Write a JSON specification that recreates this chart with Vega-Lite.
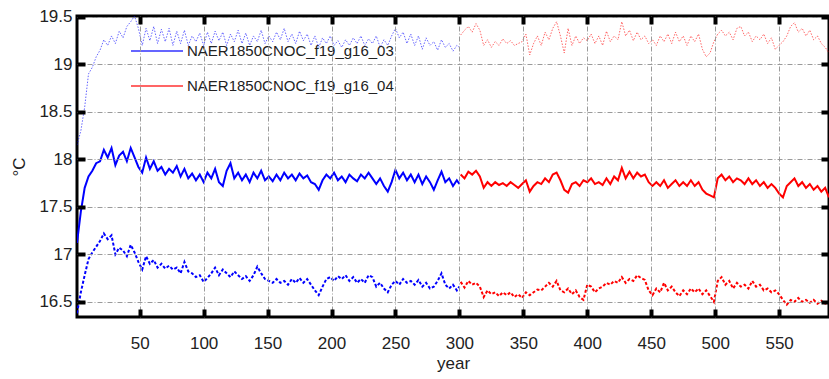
{
  "$schema": "https://vega.github.io/schema/vega-lite/v6.json",
  "width": 752,
  "height": 301,
  "autosize": "none",
  "padding": {"left": 77, "top": 16, "right": 0, "bottom": 62},
  "background": "white",
  "config": {
    "view": {"stroke": "black", "strokeWidth": 3},
    "font": "Liberation Sans",
    "axis": {
      "labelFont": "Liberation Sans",
      "titleFont": "Liberation Sans",
      "labelColor": "#222",
      "titleColor": "#222",
      "domain": false,
      "gridColor": "#9a9a9a",
      "gridDash": [5, 2, 1, 2],
      "gridWidth": 1,
      "labelFontSize": 17,
      "titleFontSize": 17,
      "titleFontWeight": "normal"
    }
  },
  "data": {
    "values": [
      {"year":1,"run":"03","t":18.15,"m":17.12,"b":16.38},
      {"year":4,"run":"03","t":18.3,"m":17.45,"b":16.6},
      {"year":7,"run":"03","t":18.55,"m":17.7,"b":16.78},
      {"year":10,"run":"03","t":18.9,"m":17.82,"b":16.95},
      {"year":13,"run":"03","t":18.97,"m":17.88,"b":17.02},
      {"year":16,"run":"03","t":19.08,"m":17.96,"b":17.08},
      {"year":19,"run":"03","t":19.15,"m":17.98,"b":17.14},
      {"year":22,"run":"03","t":19.26,"m":18.1,"b":17.22},
      {"year":25,"run":"03","t":19.2,"m":18.02,"b":17.16},
      {"year":28,"run":"03","t":19.3,"m":18.12,"b":17.2},
      {"year":31,"run":"03","t":19.22,"m":17.94,"b":17.0},
      {"year":34,"run":"03","t":19.35,"m":18.04,"b":17.07},
      {"year":37,"run":"03","t":19.28,"m":18.08,"b":17.04},
      {"year":40,"run":"03","t":19.4,"m":17.98,"b":16.98},
      {"year":43,"run":"03","t":19.45,"m":18.12,"b":17.1},
      {"year":46,"run":"03","t":19.51,"m":18.02,"b":17.02},
      {"year":49,"run":"03","t":19.38,"m":17.92,"b":16.92},
      {"year":52,"run":"03","t":19.2,"m":17.86,"b":16.84},
      {"year":55,"run":"03","t":19.38,"m":18.02,"b":16.98},
      {"year":58,"run":"03","t":19.25,"m":17.9,"b":16.9},
      {"year":61,"run":"03","t":19.4,"m":17.98,"b":16.94},
      {"year":64,"run":"03","t":19.22,"m":17.88,"b":16.86},
      {"year":67,"run":"03","t":19.37,"m":17.92,"b":16.9},
      {"year":70,"run":"03","t":19.24,"m":17.84,"b":16.85},
      {"year":73,"run":"03","t":19.38,"m":17.9,"b":16.88},
      {"year":76,"run":"03","t":19.2,"m":17.86,"b":16.84},
      {"year":79,"run":"03","t":19.35,"m":17.93,"b":16.86},
      {"year":82,"run":"03","t":19.22,"m":17.82,"b":16.8},
      {"year":85,"run":"03","t":19.36,"m":17.9,"b":16.92},
      {"year":88,"run":"03","t":19.2,"m":17.8,"b":16.82},
      {"year":91,"run":"03","t":19.3,"m":17.85,"b":16.8},
      {"year":94,"run":"03","t":19.24,"m":17.78,"b":16.76},
      {"year":97,"run":"03","t":19.33,"m":17.84,"b":16.78},
      {"year":100,"run":"03","t":19.2,"m":17.76,"b":16.71},
      {"year":103,"run":"03","t":19.34,"m":17.86,"b":16.75},
      {"year":106,"run":"03","t":19.22,"m":17.8,"b":16.8},
      {"year":109,"run":"03","t":19.35,"m":17.9,"b":16.86},
      {"year":112,"run":"03","t":19.25,"m":17.76,"b":16.78},
      {"year":115,"run":"03","t":19.34,"m":17.72,"b":16.84},
      {"year":118,"run":"03","t":19.2,"m":17.88,"b":16.8},
      {"year":121,"run":"03","t":19.32,"m":17.96,"b":16.76},
      {"year":124,"run":"03","t":19.24,"m":17.8,"b":16.82},
      {"year":127,"run":"03","t":19.36,"m":17.86,"b":16.78},
      {"year":130,"run":"03","t":19.22,"m":17.78,"b":16.74},
      {"year":133,"run":"03","t":19.33,"m":17.84,"b":16.77},
      {"year":136,"run":"03","t":19.2,"m":17.76,"b":16.72},
      {"year":139,"run":"03","t":19.3,"m":17.86,"b":16.78},
      {"year":142,"run":"03","t":19.24,"m":17.8,"b":16.87},
      {"year":145,"run":"03","t":19.36,"m":17.88,"b":16.8},
      {"year":148,"run":"03","t":19.22,"m":17.78,"b":16.74},
      {"year":151,"run":"03","t":19.3,"m":17.82,"b":16.72},
      {"year":154,"run":"03","t":19.24,"m":17.77,"b":16.7},
      {"year":157,"run":"03","t":19.34,"m":17.84,"b":16.74},
      {"year":160,"run":"03","t":19.26,"m":17.78,"b":16.7},
      {"year":163,"run":"03","t":19.38,"m":17.86,"b":16.72},
      {"year":166,"run":"03","t":19.24,"m":17.8,"b":16.68},
      {"year":169,"run":"03","t":19.32,"m":17.84,"b":16.74},
      {"year":172,"run":"03","t":19.22,"m":17.78,"b":16.7},
      {"year":175,"run":"03","t":19.35,"m":17.85,"b":16.75},
      {"year":178,"run":"03","t":19.25,"m":17.8,"b":16.7},
      {"year":181,"run":"03","t":19.32,"m":17.83,"b":16.74},
      {"year":184,"run":"03","t":19.2,"m":17.76,"b":16.68},
      {"year":187,"run":"03","t":19.3,"m":17.74,"b":16.62},
      {"year":190,"run":"03","t":19.18,"m":17.68,"b":16.57},
      {"year":193,"run":"03","t":19.28,"m":17.78,"b":16.66},
      {"year":196,"run":"03","t":19.22,"m":17.84,"b":16.74},
      {"year":199,"run":"03","t":19.3,"m":17.8,"b":16.76},
      {"year":202,"run":"03","t":19.2,"m":17.86,"b":16.72},
      {"year":205,"run":"03","t":19.25,"m":17.78,"b":16.77},
      {"year":208,"run":"03","t":19.18,"m":17.82,"b":16.74},
      {"year":211,"run":"03","t":19.26,"m":17.76,"b":16.78},
      {"year":214,"run":"03","t":19.2,"m":17.84,"b":16.72},
      {"year":217,"run":"03","t":19.28,"m":17.8,"b":16.76},
      {"year":220,"run":"03","t":19.22,"m":17.77,"b":16.7},
      {"year":223,"run":"03","t":19.3,"m":17.84,"b":16.74},
      {"year":226,"run":"03","t":19.2,"m":17.8,"b":16.7},
      {"year":229,"run":"03","t":19.27,"m":17.86,"b":16.78},
      {"year":232,"run":"03","t":19.22,"m":17.8,"b":16.76},
      {"year":235,"run":"03","t":19.3,"m":17.74,"b":16.66},
      {"year":238,"run":"03","t":19.18,"m":17.8,"b":16.7},
      {"year":241,"run":"03","t":19.26,"m":17.72,"b":16.64},
      {"year":244,"run":"03","t":19.2,"m":17.66,"b":16.6},
      {"year":247,"run":"03","t":19.3,"m":17.76,"b":16.68},
      {"year":250,"run":"03","t":19.38,"m":17.89,"b":16.72},
      {"year":253,"run":"03","t":19.28,"m":17.8,"b":16.68},
      {"year":256,"run":"03","t":19.34,"m":17.86,"b":16.74},
      {"year":259,"run":"03","t":19.22,"m":17.78,"b":16.7},
      {"year":262,"run":"03","t":19.32,"m":17.84,"b":16.72},
      {"year":265,"run":"03","t":19.2,"m":17.76,"b":16.68},
      {"year":268,"run":"03","t":19.3,"m":17.84,"b":16.73},
      {"year":271,"run":"03","t":19.16,"m":17.74,"b":16.66},
      {"year":274,"run":"03","t":19.28,"m":17.82,"b":16.7},
      {"year":277,"run":"03","t":19.2,"m":17.76,"b":16.64},
      {"year":280,"run":"03","t":19.24,"m":17.68,"b":16.66},
      {"year":283,"run":"03","t":19.15,"m":17.78,"b":16.72},
      {"year":286,"run":"03","t":19.26,"m":17.87,"b":16.8},
      {"year":289,"run":"03","t":19.18,"m":17.76,"b":16.68},
      {"year":292,"run":"03","t":19.22,"m":17.8,"b":16.64},
      {"year":295,"run":"03","t":19.14,"m":17.72,"b":16.68},
      {"year":298,"run":"03","t":19.2,"m":17.78,"b":16.62},
      {"year":300,"run":"03","t":19.18,"m":17.74,"b":16.66},
      {"year":301,"run":"04","t":19.31,"m":17.84,"b":16.71},
      {"year":304,"run":"04","t":19.36,"m":17.8,"b":16.65},
      {"year":307,"run":"04","t":19.4,"m":17.87,"b":16.72},
      {"year":310,"run":"04","t":19.34,"m":17.84,"b":16.68},
      {"year":313,"run":"04","t":19.43,"m":17.88,"b":16.7},
      {"year":316,"run":"04","t":19.36,"m":17.82,"b":16.66},
      {"year":319,"run":"04","t":19.2,"m":17.7,"b":16.55},
      {"year":322,"run":"04","t":19.26,"m":17.76,"b":16.62},
      {"year":325,"run":"04","t":19.18,"m":17.72,"b":16.58},
      {"year":328,"run":"04","t":19.24,"m":17.76,"b":16.6},
      {"year":331,"run":"04","t":19.2,"m":17.73,"b":16.56},
      {"year":334,"run":"04","t":19.27,"m":17.75,"b":16.6},
      {"year":337,"run":"04","t":19.22,"m":17.72,"b":16.57},
      {"year":340,"run":"04","t":19.25,"m":17.76,"b":16.6},
      {"year":343,"run":"04","t":19.2,"m":17.73,"b":16.55},
      {"year":346,"run":"04","t":19.22,"m":17.7,"b":16.58},
      {"year":349,"run":"04","t":19.24,"m":17.74,"b":16.54},
      {"year":352,"run":"04","t":19.32,"m":17.78,"b":16.6},
      {"year":355,"run":"04","t":19.1,"m":17.66,"b":16.57},
      {"year":358,"run":"04","t":19.22,"m":17.72,"b":16.6},
      {"year":361,"run":"04","t":19.3,"m":17.76,"b":16.63},
      {"year":364,"run":"04","t":19.2,"m":17.74,"b":16.62},
      {"year":367,"run":"04","t":19.34,"m":17.8,"b":16.66},
      {"year":370,"run":"04","t":19.26,"m":17.76,"b":16.7},
      {"year":373,"run":"04","t":19.38,"m":17.84,"b":16.66},
      {"year":376,"run":"04","t":19.45,"m":17.86,"b":16.72},
      {"year":379,"run":"04","t":19.3,"m":17.78,"b":16.62},
      {"year":382,"run":"04","t":19.12,"m":17.68,"b":16.6},
      {"year":385,"run":"04","t":19.38,"m":17.65,"b":16.64},
      {"year":388,"run":"04","t":19.2,"m":17.74,"b":16.58},
      {"year":391,"run":"04","t":19.3,"m":17.76,"b":16.62},
      {"year":394,"run":"04","t":19.22,"m":17.72,"b":16.55},
      {"year":397,"run":"04","t":19.28,"m":17.78,"b":16.52},
      {"year":400,"run":"04","t":19.25,"m":17.76,"b":16.68},
      {"year":403,"run":"04","t":19.32,"m":17.8,"b":16.66},
      {"year":406,"run":"04","t":19.22,"m":17.74,"b":16.6},
      {"year":409,"run":"04","t":19.3,"m":17.76,"b":16.64},
      {"year":412,"run":"04","t":19.2,"m":17.73,"b":16.66},
      {"year":415,"run":"04","t":19.35,"m":17.8,"b":16.7},
      {"year":418,"run":"04","t":19.24,"m":17.74,"b":16.68},
      {"year":421,"run":"04","t":19.3,"m":17.82,"b":16.72},
      {"year":424,"run":"04","t":19.26,"m":17.78,"b":16.7},
      {"year":427,"run":"04","t":19.45,"m":17.91,"b":16.76},
      {"year":430,"run":"04","t":19.3,"m":17.8,"b":16.7},
      {"year":433,"run":"04","t":19.36,"m":17.87,"b":16.74},
      {"year":436,"run":"04","t":19.25,"m":17.8,"b":16.72},
      {"year":439,"run":"04","t":19.34,"m":17.86,"b":16.78},
      {"year":442,"run":"04","t":19.26,"m":17.82,"b":16.75},
      {"year":445,"run":"04","t":19.3,"m":17.84,"b":16.73},
      {"year":448,"run":"04","t":19.22,"m":17.76,"b":16.62},
      {"year":451,"run":"04","t":19.26,"m":17.72,"b":16.57},
      {"year":454,"run":"04","t":19.2,"m":17.76,"b":16.64},
      {"year":457,"run":"04","t":19.3,"m":17.72,"b":16.6},
      {"year":460,"run":"04","t":19.24,"m":17.78,"b":16.7},
      {"year":463,"run":"04","t":19.32,"m":17.7,"b":16.62},
      {"year":466,"run":"04","t":19.22,"m":17.74,"b":16.66},
      {"year":469,"run":"04","t":19.34,"m":17.78,"b":16.6},
      {"year":472,"run":"04","t":19.24,"m":17.72,"b":16.56},
      {"year":475,"run":"04","t":19.3,"m":17.76,"b":16.62},
      {"year":478,"run":"04","t":19.2,"m":17.72,"b":16.58},
      {"year":481,"run":"04","t":19.3,"m":17.78,"b":16.64},
      {"year":484,"run":"04","t":19.24,"m":17.72,"b":16.6},
      {"year":487,"run":"04","t":19.32,"m":17.76,"b":16.64},
      {"year":490,"run":"04","t":19.16,"m":17.68,"b":16.58},
      {"year":493,"run":"04","t":19.08,"m":17.64,"b":16.62},
      {"year":496,"run":"04","t":19.12,"m":17.62,"b":16.56},
      {"year":499,"run":"04","t":19.24,"m":17.6,"b":16.5},
      {"year":502,"run":"04","t":19.32,"m":17.8,"b":16.72},
      {"year":505,"run":"04","t":19.36,"m":17.84,"b":16.76},
      {"year":508,"run":"04","t":19.3,"m":17.78,"b":16.68},
      {"year":511,"run":"04","t":19.34,"m":17.82,"b":16.72},
      {"year":514,"run":"04","t":19.26,"m":17.76,"b":16.64},
      {"year":517,"run":"04","t":19.38,"m":17.8,"b":16.7},
      {"year":520,"run":"04","t":19.4,"m":17.78,"b":16.66},
      {"year":523,"run":"04","t":19.3,"m":17.74,"b":16.68},
      {"year":526,"run":"04","t":19.34,"m":17.8,"b":16.64},
      {"year":529,"run":"04","t":19.24,"m":17.74,"b":16.72},
      {"year":532,"run":"04","t":19.3,"m":17.78,"b":16.66},
      {"year":535,"run":"04","t":19.26,"m":17.72,"b":16.68},
      {"year":538,"run":"04","t":19.32,"m":17.76,"b":16.62},
      {"year":541,"run":"04","t":19.22,"m":17.7,"b":16.64},
      {"year":544,"run":"04","t":19.28,"m":17.74,"b":16.6},
      {"year":547,"run":"04","t":19.16,"m":17.7,"b":16.62},
      {"year":550,"run":"04","t":19.2,"m":17.64,"b":16.58},
      {"year":553,"run":"04","t":19.24,"m":17.6,"b":16.52},
      {"year":556,"run":"04","t":19.3,"m":17.72,"b":16.47},
      {"year":559,"run":"04","t":19.4,"m":17.76,"b":16.52},
      {"year":562,"run":"04","t":19.44,"m":17.8,"b":16.5},
      {"year":565,"run":"04","t":19.34,"m":17.72,"b":16.54},
      {"year":568,"run":"04","t":19.38,"m":17.76,"b":16.5},
      {"year":571,"run":"04","t":19.3,"m":17.7,"b":16.52},
      {"year":574,"run":"04","t":19.36,"m":17.74,"b":16.49},
      {"year":577,"run":"04","t":19.26,"m":17.68,"b":16.52},
      {"year":580,"run":"04","t":19.3,"m":17.72,"b":16.48},
      {"year":583,"run":"04","t":19.22,"m":17.66,"b":16.51},
      {"year":586,"run":"04","t":19.18,"m":17.7,"b":16.48},
      {"year":589,"run":"04","t":19.12,"m":17.6,"b":16.5}
    ]
  },
  "resolve": {"axis": {"x": "independent", "y": "independent"}},
  "layer": [
    {
      "mark": {"type": "line", "strokeWidth": 2, "clip": true},
      "encoding": {
        "x": {"field": "year", "type": "quantitative",
              "scale": {"domain": [1, 589], "nice": false, "zero": false},
              "axis": {"orient": "bottom", "values": [50,100,150,200,250,300,350,400,450,500,550], "title": "year", "ticks": true, "tickSize": -8, "tickWidth": 4, "tickColor": "black", "labelPadding": 26, "titlePadding": 4, "grid": true, "zindex": 1}},
        "y": {"field": "m", "type": "quantitative",
              "scale": {"domain": [16.34, 19.51], "nice": false, "zero": false},
              "axis": {"orient": "left", "values": [16.5,17,17.5,18,18.5,19,19.5], "format": "~g", "title": "°C", "ticks": true, "tickSize": -8, "tickWidth": 4, "tickColor": "black", "labelPadding": 13, "titlePadding": 10, "grid": true, "zindex": 1}},
        "color": {"field": "run", "type": "nominal",
                  "scale": {"domain": ["03","04"], "range": ["#0000ff", "#ff0000"]},
                  "legend": {"orient": "none", "legendX": 53, "legendY": 8, "title": null, "symbolType": "stroke", "symbolSize": 2704, "symbolStrokeWidth": 2, "symbolDash": [], "symbolOpacity": 1, "labelFontSize": 15, "labelLimit": 400, "labelFont": "Liberation Sans", "labelColor": "#222", "labelOffset": 3, "rowPadding": -8, "labelExpr": "'NAER1850CNOC_f19_g16_' + datum.label"}}
      }
    },
    {
      "mark": {"type": "line", "strokeWidth": 1, "strokeDash": [1.5, 1.5], "opacity": 0.6, "clip": true},
      "encoding": {
        "x": {"field": "year", "type": "quantitative",
              "axis": {"orient": "top", "values": [50,100,150,200,250,300,350,400,450,500,550], "labels": false, "title": null, "grid": false, "ticks": true, "tickSize": -8, "tickWidth": 4, "tickColor": "black", "domain": false, "zindex": 1}},
        "y": {"field": "t", "type": "quantitative",
              "axis": {"orient": "right", "values": [16.5,17,17.5,18,18.5,19,19.5], "labels": false, "title": null, "grid": false, "ticks": true, "tickSize": -8, "tickWidth": 4, "tickColor": "black", "domain": false, "zindex": 1}},
        "color": {"field": "run", "type": "nominal"}
      }
    },
    {
      "mark": {"type": "line", "strokeWidth": 2, "strokeDash": [3, 2], "clip": true},
      "encoding": {
        "x": {"field": "year", "type": "quantitative", "axis": null},
        "y": {"field": "b", "type": "quantitative", "axis": null},
        "color": {"field": "run", "type": "nominal"}
      }
    }
  ]
}
